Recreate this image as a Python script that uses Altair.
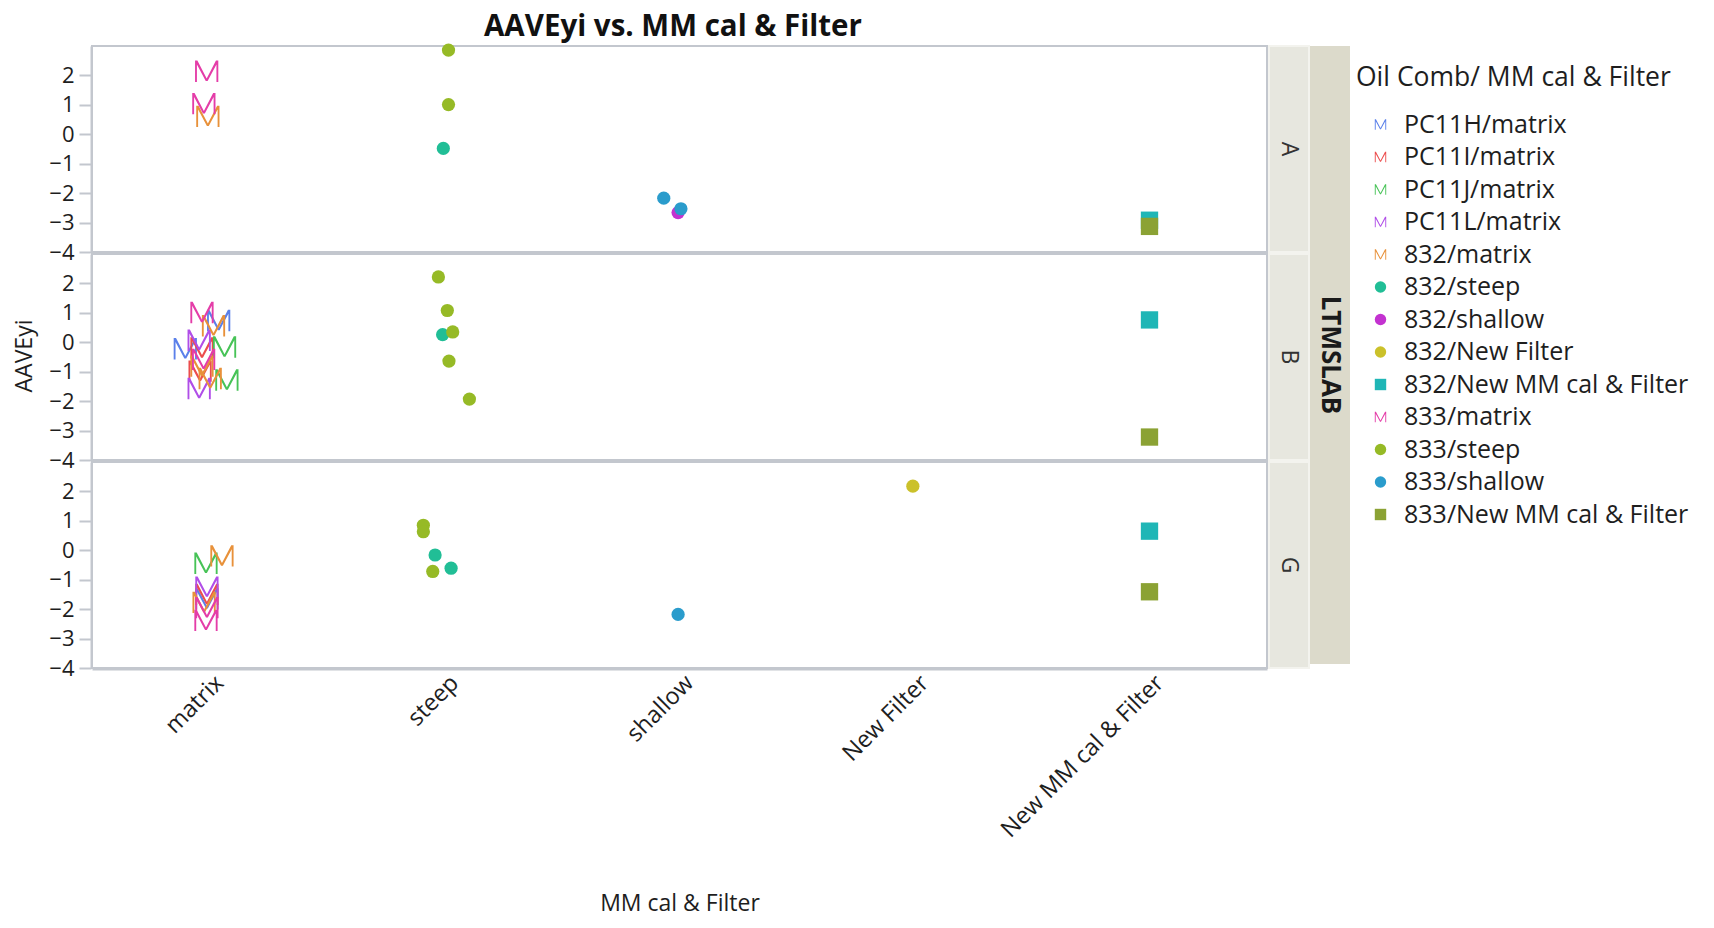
import altair as alt
import pandas as pd

# ---------------- data ----------------
categories = ["matrix", "steep", "shallow", "New Filter", "New MM cal & Filter"]
panels = ["A", "B", "G"]
series_names = [
    "PC11H/matrix", "PC11I/matrix", "PC11J/matrix", "PC11L/matrix",
    "832/matrix", "832/steep", "832/shallow", "832/New Filter",
    "832/New MM cal & Filter", "833/matrix", "833/steep", "833/shallow",
    "833/New MM cal & Filter",
]

pt_series = [
    # panel A
    "832/matrix", "832/steep", "832/shallow", "832/New MM cal & Filter",
    "833/matrix", "833/matrix", "833/steep", "833/steep", "833/shallow", "833/shallow",
    "833/New MM cal & Filter",
    # panel B
    "PC11H/matrix", "PC11H/matrix", "PC11I/matrix", "PC11I/matrix",
    "PC11J/matrix", "PC11J/matrix", "PC11L/matrix", "PC11L/matrix",
    "832/matrix", "832/matrix", "832/matrix", "832/steep", "832/New MM cal & Filter",
    "833/matrix", "833/matrix", "833/steep", "833/steep", "833/steep", "833/steep", "833/steep",
    "833/New MM cal & Filter",
    # panel G
    "PC11H/matrix", "PC11I/matrix", "PC11J/matrix", "PC11L/matrix",
    "832/matrix", "832/matrix", "832/steep", "832/steep", "832/New Filter",
    "832/New MM cal & Filter",
    "833/matrix", "833/matrix", "833/steep", "833/steep", "833/steep", "833/shallow",
    "833/New MM cal & Filter",
]
pt_panel = ["A"] * 11 + ["B"] * 21 + ["G"] * 17
pt_jitter = [
    -0.007, -0.005, -0.006, 0.0,
    -0.012, -0.024, 0.017, 0.017, -0.067, 0.006,
    0.0,
    0.039, -0.103, -0.032, -0.040,
    0.064, 0.074, -0.044, -0.044,
    0.017, -0.032, 0.003, -0.008, 0.0,
    -0.032, -0.025, -0.026, 0.012, 0.035, 0.019, 0.106,
    0.0,
    -0.011, -0.011, -0.015, -0.011,
    0.053, -0.023, -0.040, 0.028, -0.007,
    0.0,
    -0.015, -0.011, -0.090, -0.090, -0.050, -0.006,
    0.0,
]
pt_value = [
    0.61, -0.48, -2.66, -2.92,
    2.14, 1.04, 2.86, 1.01, -2.17, -2.53,
    -3.13,
    0.74, -0.22, -0.19, -0.98,
    -0.16, -1.28, 0.07, -1.57,
    0.56, -0.81, -1.23, 0.26, 0.76,
    1.01, -0.58, 2.22, 1.08, 0.35, -0.64, -1.93,
    -3.22,
    -1.65, -1.50, -0.44, -1.25,
    -0.19, -1.77, -0.16, -0.61, 2.18,
    0.65,
    -2.38, -1.95, 0.85, 0.63, -0.72, -2.18,
    -1.41,
]

# ---------------- styles ----------------
FONT = "Open Sans"
GRAY = "#C3C7CE"
TEXT = "#1e1e1e"
series_colors = [
    "#5B80EA", "#EC4D4D", "#47C357", "#B04EE8",
    "#E8913A", "#21BE96", "#C332D0", "#CBC12A",
    "#1FB6B6", "#E43DA8", "#96BA26", "#2A9CCC",
    "#8BA234",
]
M_PATH = ("M-1,0.92L-1,-0.92L-0.8,-0.92L0,0.62L0.8,-0.92L1,-0.92L1,0.92"
          "L0.84,0.92L0.84,-0.58L0.08,0.84L-0.08,0.84L-0.84,-0.58L-0.84,0.92Z")
KIND_SIZE = {"M": 540, "circle": 175, "square": 300}


def kind_of(name):
    cat = name.split("/", 1)[1]
    if cat == "matrix":
        return "M"
    if cat == "New MM cal & Filter":
        return "square"
    return "circle"


series_shapes = [M_PATH if kind_of(s) == "M" else kind_of(s) for s in series_names]

df = pd.DataFrame({
    "series": pt_series,
    "panel": pt_panel,
    "value": pt_value,
})
df["category"] = df["series"].str.split("/", n=1).str[1]
df["x"] = [categories.index(c) + 1 + j for c, j in zip(df["category"], pt_jitter)]
df["msize"] = df["series"].map(lambda s: KIND_SIZE[kind_of(s)])
df["order"] = df["series"].map(series_names.index)

label_expr = "[" + ",".join("'" + c + "'" for c in categories) + "][datum.value - 1]"

legend = alt.Legend(
    title="Oil Comb/ MM cal & Filter",
    orient="none", legendX=1264, legendY=18.5, padding=0,
    titleFont=FONT, titleFontSize=26.5, titleFontWeight="normal", titleColor=TEXT,
    titlePadding=21, titleLimit=500,
    labelFont=FONT, labelFontSize=25, labelColor=TEXT, labelLimit=500,
    labelExpr="indexof(datum.label, 'PC11') == 0 ? '\u00a0' + datum.label : datum.label",
    symbolSize=130, symbolOffset=12, symbolStrokeWidth=0,
    labelOffset=11, rowPadding=6.5,
)

points = alt.Chart(df).mark_point(filled=True, opacity=1).encode(
    x=alt.X("x:Q",
            scale=alt.Scale(domain=[0.5, 5.5], nice=False, zero=False),
            axis=alt.Axis(values=[1, 2, 3, 4, 5], labelExpr=label_expr,
                          labelAngle=-45, labelAlign="right", labelBaseline="middle",
                          labelFontSize=23.5, labelLimit=500, labelOffset=10,
                          ticks=False, labelPadding=10,
                          title="MM cal & Filter", titlePadding=51)),
    y=alt.Y("value:Q",
            scale=alt.Scale(domain=[-4, 3], nice=False, zero=False),
            axis=alt.Axis(values=[-4, -3, -2, -1, 0, 1, 2], title=None,
                          tickSize=12, labelPadding=5)),
    color=alt.Color("series:N", scale=alt.Scale(domain=series_names, range=series_colors),
                    legend=legend),
    shape=alt.Shape("series:N", scale=alt.Scale(domain=series_names, range=series_shapes),
                    legend=legend),
    size=alt.Size("msize:Q", scale=None),
    order=alt.Order("order:Q"),
).properties(width=1175, height=206)

main = points.facet(
    row=alt.Row("panel:N", sort=panels,
                header=alt.Header(labels=False, title="AAVEyi", titleOrient="left",
                                  titleAngle=-90, titleFont=FONT, titleFontSize=23,
                                  titleFontWeight="normal", titleColor=TEXT, titlePadding=-22)),
    spacing=0,
)

strip = alt.Chart(pd.DataFrame({"panel": panels})).mark_text(
    angle=90, font=FONT, fontSize=23, color="#333333"
).encode(
    text="panel:N", x=alt.value(20), y=alt.value(103)
).properties(
    width=40, height=206,
    view=alt.ViewBackground(fill="#E7E7DF", stroke="#F3F3EE", strokeWidth=2),
).facet(row=alt.Row("panel:N", sort=panels, header=None), spacing=0)

ltms = alt.Chart(pd.DataFrame({"t": ["LTMSLAB"]})).mark_text(
    angle=90, font=FONT, fontSize=26, fontWeight="bold", color="#1a1a1a"
).encode(
    text="t:N", x=alt.value(20), y=alt.value(309)
).properties(
    width=40, height=618,
    view=alt.ViewBackground(fill="#DCDACB", strokeOpacity=0),
)

chart = alt.hconcat(main, strip, ltms, spacing=0).properties(
    title=alt.Title("AAVEyi vs. MM cal & Filter", font=FONT, fontSize=29.5,
                    fontWeight="bold", color="#111111", anchor="start", dx=470, offset=0),
    padding={"left": 5, "top": 4, "right": 0, "bottom": 3},
).configure(font=FONT).configure_axis(
    labelFont=FONT, labelFontSize=22, labelColor=TEXT,
    titleFont=FONT, titleFontSize=23, titleFontWeight="normal", titleColor=TEXT,
    domainColor=GRAY, tickColor=GRAY, domainWidth=2, tickWidth=2, grid=False,
).configure_view(stroke=GRAY, strokeWidth=2)

chart.save("out.html", embed_options={"renderer": "svg", "actions": False})
